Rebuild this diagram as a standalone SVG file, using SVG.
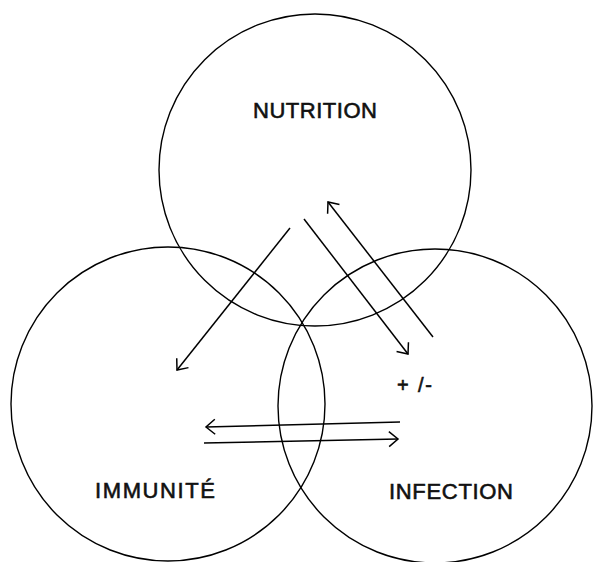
<svg xmlns="http://www.w3.org/2000/svg" width="594" height="562" viewBox="0 0 594 562">
<style>
.c{fill:none;stroke:#000;stroke-width:1.4}
.a{fill:none;stroke:#000;stroke-width:1.5;marker-end:url(#ah)}
.t{font-family:"Liberation Sans",Arial,sans-serif;font-size:22px;fill:#111;stroke:#111;stroke-width:0.6}
.s{font-family:"Liberation Sans",Arial,sans-serif;font-size:20px;fill:#111;stroke:#111;stroke-width:0.6}
</style>
<defs>
<marker id="ah" viewBox="-12 -9 14 18" markerWidth="14" markerHeight="18" refX="0" refY="0" orient="auto" markerUnits="userSpaceOnUse">
<path d="M-9,-7.5 L0,0 L-9,7.5" fill="none" stroke="#000" stroke-width="1.5"/>
</marker>
</defs>
<rect width="594" height="562" fill="#fff"/>
<g id="nutrition">
<circle class="c" cx="315" cy="170" r="156"/>
<text class="t" x="253" y="118" textLength="124" lengthAdjust="spacing">NUTRITION</text>
</g>
<g id="immunite">
<circle class="c" cx="168" cy="404" r="157"/>
<text class="t" x="95" y="498" textLength="120" lengthAdjust="spacing">IMMUNITÉ</text>
</g>
<g id="infection">
<circle class="c" cx="435" cy="406" r="157"/>
<text class="t" x="389" y="499" textLength="124" lengthAdjust="spacing">INFECTION</text>
</g>
<g id="connectors">
<line class="a" x1="290" y1="228" x2="177" y2="370"/>
<line class="a" x1="304" y1="219" x2="408" y2="354"/>
<line class="a" x1="433" y1="337" x2="328" y2="202"/>
<line class="a" x1="400" y1="422" x2="206" y2="427"/>
<line class="a" x1="204" y1="443" x2="398" y2="439"/>
<text class="s" x="397" y="392" textLength="35" lengthAdjust="spacing">+ /-</text>
</g>
</svg>
